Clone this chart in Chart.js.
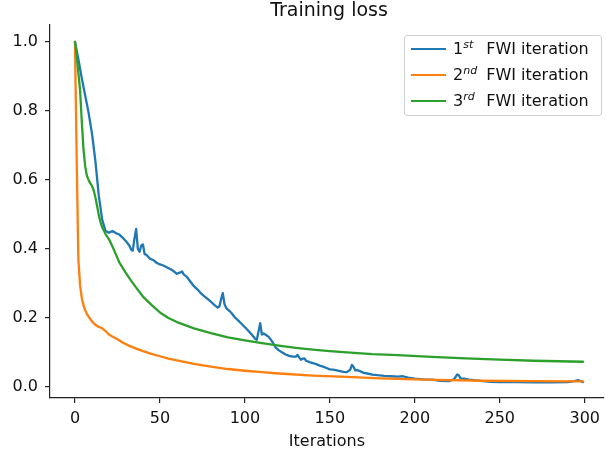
<!DOCTYPE html>
<html>
<head>
<meta charset="utf-8">
<script src="https://cdn.jsdelivr.net/npm/chart.js@4/dist/chart.umd.min.js"></script>
<style>
  html, body { margin: 0; padding: 0; background: #fff; }
  #wrap { position: relative; width: 606px; height: 455px; font-family: "DejaVu Sans", sans-serif; }
  #legend {
    position: absolute; left: 404px; top: 35px; width: 198px; height: 81px;
    border: 1px solid #d0d0d0; border-radius: 3px; background: rgba(255,255,255,0.8);
    font-size: 16px; color: #111; box-sizing: border-box; padding-top: 0;
  }
  .row { position: relative; height: 26px; line-height: 26px; padding-left: 48px; white-space: nowrap; }
  .row .swatch { position: absolute; left: 6px; top: 12px; width: 35px; height: 2.3px; }
  sup { display: inline-block; width: 23px; font-size: 11px; font-style: italic; line-height: 0; vertical-align: 6px; }
</style>
</head>
<body>
<div id="wrap">
  <canvas id="lossChart" width="606" height="455"></canvas>
  <div id="legend">
    <div class="row"><span class="swatch" style="background:#1f77b4"></span>1<sup>st</sup>FWI iteration</div>
    <div class="row"><span class="swatch" style="background:#ff7f0e"></span>2<sup>nd</sup>FWI iteration</div>
    <div class="row"><span class="swatch" style="background:#2ca02c"></span>3<sup>rd</sup>FWI iteration</div>
  </div>
</div>
<script>
// Valores (iteración, pérdida)
const iter1 = [0, 2, 4, 6, 8, 10, 12, 14, 16, 18, 20, 22, 24, 26, 28, 30, 32, 33, 34, 35, 36, 37, 38, 39, 40, 41, 42,
  44, 46, 48, 50, 52, 54, 56, 58, 60, 62, 63, 64, 66, 68, 70, 72, 74, 76, 78, 80, 82, 84, 85, 86, 87, 88, 89, 90,
  92, 94, 96, 98, 100, 102, 104, 106, 107, 108, 109, 110, 111, 112, 114, 116, 118, 120, 122, 124, 126, 128, 130,
  131, 132, 133, 134, 135, 136, 138, 140, 142, 144, 146, 148, 150, 152, 154, 156, 158, 160, 162, 163, 164, 165,
  166, 168, 170, 172, 175, 178, 182, 186, 190, 193, 196, 200, 205, 210, 215, 220, 223, 225, 226, 227, 229, 232,
  236, 240, 245, 250, 260, 270, 280, 290, 294, 296, 298, 299];
const loss1 = [1.0, 0.95, 0.895, 0.845, 0.795, 0.735, 0.655, 0.555, 0.485, 0.452, 0.447, 0.452, 0.446, 0.442, 0.433,
  0.422, 0.41, 0.398, 0.395, 0.43, 0.458, 0.4, 0.392, 0.41, 0.413, 0.385, 0.383,
  0.372, 0.368, 0.36, 0.355, 0.352, 0.347, 0.342, 0.336, 0.328, 0.332, 0.335, 0.326, 0.318, 0.305, 0.292, 0.283,
  0.272, 0.263, 0.255, 0.247, 0.238, 0.23, 0.233, 0.255, 0.272, 0.24, 0.229, 0.224,
  0.215, 0.202, 0.193, 0.183, 0.173, 0.163, 0.152, 0.14, 0.137, 0.16, 0.185, 0.152, 0.155, 0.152, 0.145, 0.132,
  0.115, 0.106, 0.1, 0.094, 0.09, 0.088, 0.088,
  0.093, 0.085, 0.079, 0.082, 0.083, 0.076, 0.072, 0.069, 0.066, 0.062, 0.059, 0.055, 0.051, 0.05, 0.048, 0.046,
  0.044, 0.043, 0.05, 0.064, 0.058, 0.048,
  0.049, 0.045, 0.041, 0.039, 0.036, 0.034, 0.032, 0.031, 0.03, 0.031, 0.027, 0.024, 0.022, 0.021, 0.018, 0.017,
  0.022, 0.036, 0.033, 0.024, 0.024, 0.021,
  0.019, 0.017, 0.015, 0.014, 0.014, 0.013, 0.013, 0.014, 0.017, 0.02, 0.016, 0.014];

const iter2 = [0, 1, 2, 3, 4, 5, 6, 7, 8, 9, 10, 12, 14, 16, 18, 20, 22, 25, 28, 32, 36, 40, 45, 50, 55, 60, 70, 80,
  90, 100, 110, 120, 140, 160, 180, 200, 220, 240, 270, 299];
const loss2 = [1.0, 0.66, 0.37, 0.295, 0.258, 0.237, 0.222, 0.212, 0.204, 0.197, 0.19, 0.18, 0.174, 0.17, 0.162,
  0.152, 0.146, 0.138, 0.129, 0.119, 0.111, 0.104, 0.096, 0.089, 0.082, 0.077, 0.067, 0.059,
  0.052, 0.047, 0.043, 0.039, 0.033, 0.029, 0.025, 0.022, 0.02, 0.018, 0.017, 0.016];

const iter3 = [0, 1, 2, 3, 4, 5, 6, 7, 8, 9, 10, 11, 12, 13, 14, 15, 16, 18, 20, 22, 24, 26, 28, 30, 33, 36, 40, 45,
  50, 55, 60, 70, 80, 90, 100, 110, 120, 130, 140, 150, 160, 175, 190, 210, 230, 250, 270, 299];
const loss3 = [1.0, 0.96, 0.91, 0.86, 0.77, 0.69, 0.64, 0.612, 0.6, 0.59, 0.583, 0.57, 0.55, 0.525, 0.498, 0.478,
  0.463, 0.443, 0.428, 0.408, 0.385, 0.362, 0.346, 0.33, 0.308, 0.288, 0.262, 0.238,
  0.216, 0.2, 0.188, 0.17, 0.156, 0.144, 0.135, 0.127, 0.12, 0.113, 0.108, 0.104, 0.1, 0.095, 0.092, 0.087, 0.083,
  0.079, 0.076, 0.073];

const xTicks = [0, 50, 100, 150, 200, 250, 300];
const yTicks = [0.0, 0.2, 0.4, 0.6, 0.8, 1.0];

function toPoints(xs, ys) {
  return xs.map((x, i) => ({ x: x, y: ys[i] }));
}

// Título centrado sobre el área del gráfico (como matplotlib)
const titlePlugin = {
  id: 'axesTitle',
  afterDraw(chart) {
    const ctx = chart.ctx;
    const area = chart.chartArea;
    ctx.save();
    ctx.font = '19px "DejaVu Sans", sans-serif';
    ctx.fillStyle = '#111';
    ctx.textAlign = 'center';
    ctx.textBaseline = 'middle';
    ctx.fillText('Training loss', 329, 11);
    ctx.restore();
  }
};

const tickFont = { family: '"DejaVu Sans", sans-serif', size: 16 };

new Chart(document.getElementById('lossChart').getContext('2d'), {
  type: 'line',
  data: {
    datasets: [
      { label: '1st FWI iteration', data: toPoints(iter1, loss1), borderColor: '#1f77b4', order: 3 },
      { label: '2nd FWI iteration', data: toPoints(iter2, loss2), borderColor: '#ff7f0e', order: 2 },
      { label: '3rd FWI iteration', data: toPoints(iter3, loss3), borderColor: '#2ca02c', order: 1 }
    ]
  },
  options: {
    responsive: false,
    animation: false,
    layout: { padding: { top: 25, right: 0, left: 0, bottom: 0 } },
    elements: {
      line: { borderWidth: 2.3, tension: 0, fill: false, borderCapStyle: 'round', borderJoinStyle: 'round' },
      point: { radius: 0 }
    },
    plugins: {
      legend: { display: false },
      title: { display: false },
      tooltip: { enabled: false }
    },
    scales: {
      x: {
        type: 'linear',
        min: -14.7,
        max: 311.3,
        afterBuildTicks: (scale) => { scale.ticks = xTicks.map(v => ({ value: v })); },
        afterFit: (scale) => { scale.height = 57; },
        border: { display: true, color: '#222', width: 1.2 },
        grid: { drawOnChartArea: false, drawTicks: true, tickLength: 5, color: '#222', lineWidth: 1.2 },
        ticks: { font: tickFont, color: '#111', padding: 6, maxRotation: 0 },
        title: { display: true, text: 'Iterations', font: tickFont, color: '#111', padding: { top: 0, bottom: 4 } }
      },
      y: {
        min: -0.032,
        max: 1.049,
        afterBuildTicks: (scale) => { scale.ticks = yTicks.map(v => ({ value: v })); },
        afterFit: (scale) => { scale.width = 50; },
        border: { display: true, color: '#222', width: 1.2 },
        grid: { drawOnChartArea: false, drawTicks: true, tickLength: 5, color: '#222', lineWidth: 1.2 },
        ticks: { font: tickFont, color: '#111', padding: 7, callback: (v) => v.toFixed(1) }
      }
    }
  },
  plugins: [titlePlugin]
});
</script>
</body>
</html>
